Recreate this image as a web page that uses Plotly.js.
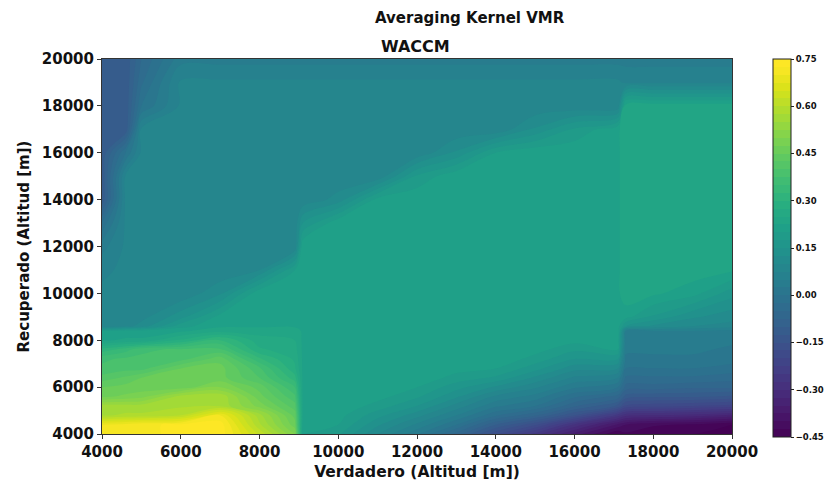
<!DOCTYPE html>
<html>
<head>
<meta charset="utf-8">
<script src="https://cdn.plot.ly/plotly-3.0.1.min.js"></script>
<style>
  html, body { margin: 0; padding: 0; background: #ffffff; }
  #chart { width: 832px; height: 486px; }
</style>
</head>
<body>
<div id="chart"></div>
<script>
// True altitude (x) grid, metres
const xTrue = [4000, 4600, 5000, 6000, 7000, 8000, 8900, 9100, 10000, 11000, 12000, 13000, 14000, 15000, 16000, 17100, 17300, 18000, 19000, 20000];
// Retrieved altitude (y) grid, metres
const yRetr = [4000, 4400, 4800, 5200, 5600, 6000, 6400, 6800, 7200, 7600, 8000, 8400, 8600, 9000,
               10000, 11000, 12000, 13000, 14000, 15000, 16000, 17000, 18000, 19000, 20000];

// Averaging kernel values, one row per retrieved altitude (columns follow xTrue)
const r4000  = [0.72, 0.72, 0.72, 0.73, 0.74, 0.62, 0.50, 0.20, 0.18, 0.10, 0.03, -0.06, -0.17, -0.26, -0.36, -0.45, -0.43, -0.45, -0.45, -0.45];
const r4400  = [0.70, 0.71, 0.72, 0.73, 0.74, 0.58, 0.46, 0.21, 0.20, 0.13, 0.07, 0.00, -0.10, -0.17, -0.28, -0.38, -0.40, -0.42, -0.43, -0.45];
const r4800  = [0.57, 0.58, 0.58, 0.60, 0.70, 0.56, 0.44, 0.22, 0.21, 0.16, 0.11, 0.05, -0.02, -0.07, -0.15, -0.26, -0.29, -0.30, -0.31, -0.33];
const r5200  = [0.56, 0.56, 0.56, 0.57, 0.57, 0.49, 0.41, 0.22, 0.22, 0.19, 0.15, 0.09, 0.03, 0.00, -0.07, -0.13, -0.18, -0.19, -0.20, -0.21];
const r5600  = [0.47, 0.48, 0.49, 0.56, 0.57, 0.46, 0.38, 0.22, 0.22, 0.21, 0.18, 0.13, 0.07, 0.04, -0.02, -0.06, -0.11, -0.12, -0.12, -0.13];
const r6000  = [0.45, 0.46, 0.46, 0.46, 0.50, 0.44, 0.35, 0.22, 0.22, 0.22, 0.20, 0.16, 0.12, 0.08, 0.03, 0.00, -0.06, -0.06, -0.07, -0.07];
const r6400  = [0.41, 0.43, 0.45, 0.46, 0.46, 0.40, 0.31, 0.22, 0.22, 0.22, 0.22, 0.19, 0.17, 0.12, 0.07, 0.05, -0.03, -0.03, -0.03, -0.04];
const r6800  = [0.38, 0.39, 0.39, 0.45, 0.46, 0.38, 0.28, 0.22, 0.22, 0.22, 0.22, 0.21, 0.20, 0.16, 0.11, 0.10, 0.00, 0.00, 0.00, -0.01];
const r7200  = [0.37, 0.38, 0.38, 0.39, 0.44, 0.33, 0.27, 0.22, 0.22, 0.22, 0.22, 0.22, 0.22, 0.19, 0.15, 0.15, 0.02, 0.02, 0.02, 0.01];
const r7600  = [0.31, 0.34, 0.37, 0.38, 0.38, 0.28, 0.26, 0.22, 0.22, 0.22, 0.22, 0.22, 0.22, 0.21, 0.18, 0.20, 0.03, 0.03, 0.03, 0.02];
const r8000  = [0.22, 0.23, 0.23, 0.28, 0.33, 0.26, 0.25, 0.22, 0.22, 0.22, 0.22, 0.22, 0.22, 0.22, 0.21, 0.21, 0.04, 0.04, 0.04, 0.03];
const r8400  = [0.20, 0.21, 0.21, 0.22, 0.24, 0.24, 0.24, 0.22, 0.22, 0.22, 0.22, 0.22, 0.22, 0.22, 0.22, 0.22, 0.05, 0.05, 0.05, 0.04];
const r8600  = [0.08, 0.09, 0.11, 0.19, 0.22, 0.22, 0.22, 0.22, 0.22, 0.22, 0.22, 0.22, 0.22, 0.22, 0.22, 0.21, 0.15, 0.12, 0.10, 0.09];
const r9000  = [0.08, 0.08, 0.09, 0.14, 0.21, 0.22, 0.22, 0.22, 0.22, 0.22, 0.22, 0.22, 0.22, 0.22, 0.22, 0.22, 0.21, 0.17, 0.13, 0.11];
const r10000 = [0.08, 0.08, 0.08, 0.08, 0.12, 0.22, 0.22, 0.22, 0.22, 0.22, 0.22, 0.22, 0.22, 0.22, 0.22, 0.22, 0.24, 0.23, 0.21, 0.16];
const r11000 = [0.07, 0.08, 0.08, 0.08, 0.08, 0.10, 0.20, 0.22, 0.22, 0.22, 0.22, 0.22, 0.22, 0.22, 0.22, 0.22, 0.24, 0.24, 0.24, 0.23];
const r12000 = [0.04, 0.08, 0.08, 0.08, 0.08, 0.08, 0.08, 0.22, 0.22, 0.22, 0.22, 0.22, 0.22, 0.22, 0.22, 0.22, 0.24, 0.24, 0.24, 0.24];
const r13000 = [-0.02, 0.08, 0.08, 0.08, 0.08, 0.08, 0.08, 0.15, 0.22, 0.22, 0.22, 0.22, 0.22, 0.22, 0.22, 0.22, 0.24, 0.24, 0.24, 0.24];
const r14000 = [-0.12, 0.08, 0.08, 0.08, 0.08, 0.08, 0.08, 0.08, 0.11, 0.21, 0.22, 0.22, 0.22, 0.22, 0.22, 0.22, 0.24, 0.24, 0.24, 0.24];
const r15000 = [-0.12, 0.08, 0.08, 0.08, 0.08, 0.08, 0.08, 0.08, 0.08, 0.08, 0.18, 0.22, 0.22, 0.22, 0.22, 0.22, 0.24, 0.24, 0.24, 0.24];
const r16000 = [-0.12, 0.00, 0.08, 0.08, 0.08, 0.08, 0.08, 0.08, 0.08, 0.08, 0.08, 0.13, 0.20, 0.22, 0.22, 0.22, 0.24, 0.24, 0.24, 0.24];
const r17000 = [-0.12, -0.12, 0.08, 0.08, 0.08, 0.08, 0.08, 0.08, 0.08, 0.08, 0.08, 0.08, 0.08, 0.13, 0.18, 0.22, 0.24, 0.24, 0.24, 0.24];
const r18000 = [-0.12, -0.12, 0.00, 0.08, 0.08, 0.08, 0.08, 0.08, 0.08, 0.08, 0.08, 0.08, 0.08, 0.08, 0.08, 0.08, 0.24, 0.24, 0.24, 0.24];
const r19000 = [-0.12, -0.12, -0.03, 0.08, 0.08, 0.08, 0.08, 0.08, 0.08, 0.08, 0.08, 0.08, 0.08, 0.08, 0.08, 0.08, 0.07, 0.07, 0.07, 0.07];
const r20000 = [-0.12, -0.12, -0.05, 0.04, 0.04, 0.04, 0.04, 0.04, 0.04, 0.04, 0.04, 0.04, 0.04, 0.04, 0.04, 0.04, 0.04, 0.04, 0.04, 0.04];

// Tick labels
const axisTicks = [4000, 6000, 8000, 10000, 12000, 14000, 16000, 18000, 20000];
const cbarTicks = [-0.45, -0.30, -0.15, 0.00, 0.15, 0.30, 0.45, 0.60, 0.75];

const zRows = [r4000, r4400, r4800, r5200, r5600, r6000, r6400, r6800, r7200, r7600, r8000, r8400, r8600, r9000,
               r10000, r11000, r12000, r13000, r14000, r15000, r16000, r17000, r18000, r19000, r20000];

const boldFont = { family: 'DejaVu Sans, sans-serif', weight: 'bold', color: '#111111' };

const trace = {
  type: 'contour',
  x: xTrue,
  y: yRetr,
  z: zRows,
  colorscale: 'Viridis',
  zauto: false,
  zmin: -0.45,
  zmax: 0.75,
  contours: { start: -0.45, end: 0.75, size: 0.025, coloring: 'fill', showlines: false },
  line: { width: 0 },
  hoverinfo: 'skip',
  colorbar: {
    x: (773 - 102) / 630,
    xanchor: 'left',
    xpad: 0,
    ypad: 0,
    y: (434 - 248) / 375,
    yanchor: 'middle',
    thickness: 18,
    thicknessmode: 'pixels',
    len: 378,
    lenmode: 'pixels',
    outlinewidth: 1,
    outlinecolor: '#222222',
    tickmode: 'array',
    tickvals: cbarTicks,
    ticktext: cbarTicks.map(v => (v < 0 ? '\u2212' : '') + Math.abs(v).toFixed(2)),
    ticks: 'outside',
    ticklen: 3,
    tickcolor: '#222222',
    tickfont: Object.assign({}, boldFont, { size: 8.5 })
  }
};

const layout = {
  width: 832,
  height: 486,
  margin: { l: 102, r: 100, t: 59, b: 52, autoexpand: false },
  paper_bgcolor: '#ffffff',
  plot_bgcolor: '#ffffff',
  showlegend: false,
  xaxis: {
    range: [4000, 20000],
    tickmode: 'array',
    tickvals: axisTicks,
    ticktext: axisTicks.map(String),
    ticks: 'outside',
    ticklen: 4,
    tickcolor: '#333333',
    showline: true,
    mirror: true,
    linecolor: '#333333',
    linewidth: 1,
    showgrid: false,
    zeroline: false,
    automargin: false,
    tickfont: Object.assign({}, boldFont, { size: 15 }),
    title: { text: 'Verdadero (Altitud [m])', font: Object.assign({}, boldFont, { size: 15.5 }), standoff: 6 }
  },
  yaxis: {
    range: [4000, 20000],
    tickmode: 'array',
    tickvals: axisTicks,
    ticktext: axisTicks.map(String),
    ticks: 'outside',
    ticklen: 4,
    tickcolor: '#333333',
    showline: true,
    mirror: true,
    linecolor: '#333333',
    linewidth: 1,
    showgrid: false,
    zeroline: false,
    automargin: false,
    tickfont: Object.assign({}, boldFont, { size: 15 }),
    title: { text: 'Recuperado (Altitud [m])', font: Object.assign({}, boldFont, { size: 15 }), standoff: 8 }
  },
  annotations: [
    {
      text: 'Averaging Kernel VMR',
      xref: 'paper', yref: 'paper',
      x: (470 - 102) / 630, y: (434 - 18) / 375,
      xanchor: 'center', yanchor: 'middle',
      showarrow: false,
      font: Object.assign({}, boldFont, { size: 15 })
    },
    {
      text: 'WACCM',
      xref: 'paper', yref: 'paper',
      x: (415 - 102) / 630, y: (434 - 46) / 375,
      xanchor: 'center', yanchor: 'middle',
      showarrow: false,
      font: Object.assign({}, boldFont, { size: 16 })
    }
  ]
};

Plotly.newPlot('chart', [trace], layout, { displayModeBar: false, staticPlot: true });
</script>
</body>
</html>
